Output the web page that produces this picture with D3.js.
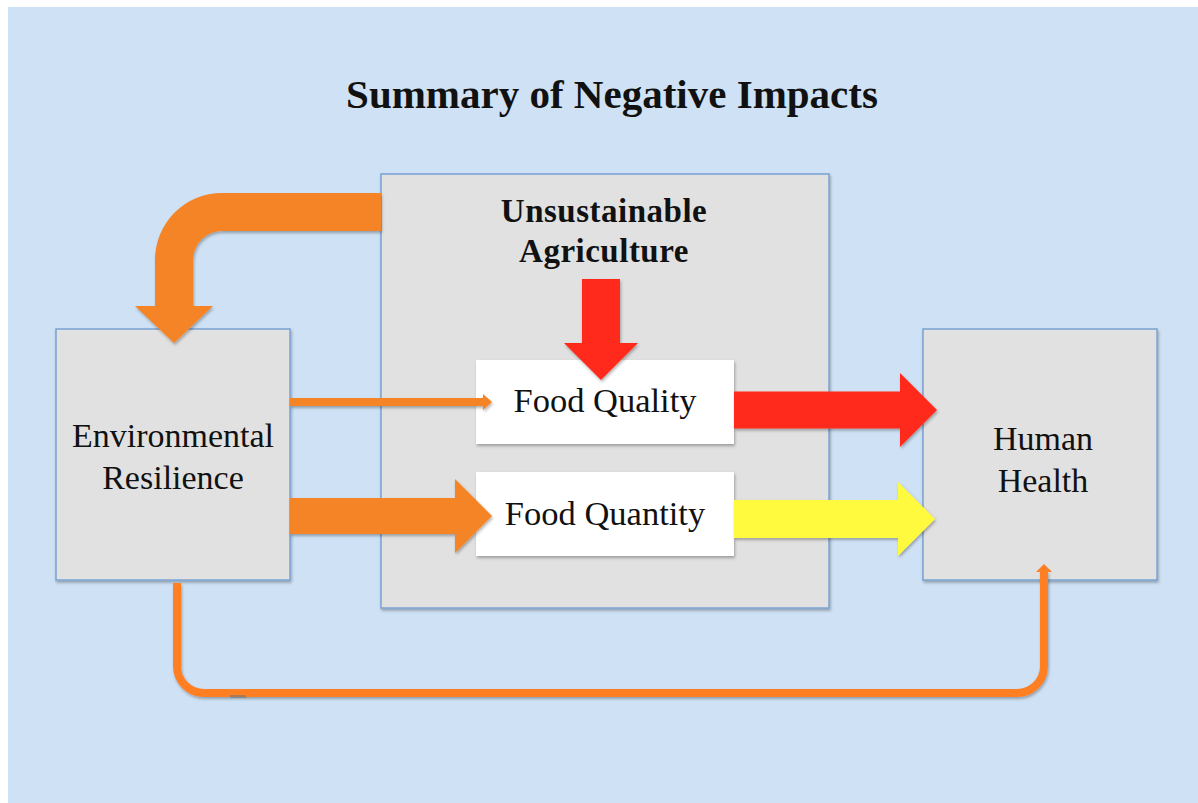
<!DOCTYPE html>
<html lang="en">
<head>
<meta charset="utf-8">
<script src="https://d3js.org/d3.v7.min.js"></script>
<style>
  body { margin: 0; background: #fff; }
  svg text { font-family: "Liberation Serif", "Times New Roman", serif; fill: #111; }
</style>
</head>
<body>
<svg width="1198" height="803"></svg>
<script>
// text content
var title = "Summary of Negative Impacts";
var sideLabels = [["Environmental", "Resilience"], ["Human", "Health"]];
var centerLabel = ["Unsustainable", "Agriculture"];
var foodLabels = ["Food Quality", "Food Quantity"];

var svg = d3.select("svg");
var defs = svg.append("defs");
var f = defs.append("filter").attr("id", "shadow")
    .attr("x", "-10%").attr("y", "-10%").attr("width", "130%").attr("height", "130%");
f.append("feDropShadow").attr("dx", 1).attr("dy", 2).attr("stdDeviation", 1.5)
    .attr("flood-color", "#000").attr("flood-opacity", 0.3);

var orange = "#f58426", red = "#ff2a1a", yellow = "#fffa3c", lineOrange = "#ff7f24";

// background panel
svg.append("rect").attr("x", 8).attr("y", 7).attr("width", 1190).attr("height", 796)
    .attr("fill", "#cfe2f5");

svg.append("text").attr("x", 612).attr("y", 108).attr("text-anchor", "middle")
    .style("font-size", "41px").style("font-weight", "bold").text(title);

// block arrow horizontal: from x0 to tip x1, centre y, shaft half, head half, head length
function hArrow(x0, x1, yc, sh, hh, hl) {
  var p = d3.path();
  p.moveTo(x0, yc - sh); p.lineTo(x1 - hl, yc - sh); p.lineTo(x1 - hl, yc - hh);
  p.lineTo(x1, yc); p.lineTo(x1 - hl, yc + hh); p.lineTo(x1 - hl, yc + sh);
  p.lineTo(x0, yc + sh); p.closePath();
  return p.toString();
}
function vArrow(xc, y0, y1, sh, hh, hl) {
  var p = d3.path();
  p.moveTo(xc - sh, y0); p.lineTo(xc - sh, y1 - hl); p.lineTo(xc - hh, y1 - hl);
  p.lineTo(xc, y1); p.lineTo(xc + hh, y1 - hl); p.lineTo(xc + sh, y1 - hl);
  p.lineTo(xc + sh, y0); p.closePath();
  return p.toString();
}

// boxes
var boxes = [
  {x: 56, y: 329, w: 234, h: 251},
  {x: 923, y: 329, w: 234, h: 251},
  {x: 381, y: 174, w: 448, h: 434}
];
svg.selectAll("rect.box").data(boxes).enter().append("rect").attr("class", "box")
    .attr("x", function(d) { return d.x; }).attr("y", function(d) { return d.y; })
    .attr("width", function(d) { return d.w; }).attr("height", function(d) { return d.h; })
    .attr("fill", "#e1e1e1").attr("stroke", "#78a3d3").attr("stroke-width", 1.5)
    .attr("filter", "url(#shadow)");

// curved arrow from agriculture box down into environmental resilience
var cp = d3.path();
cp.moveTo(381, 193); cp.lineTo(222, 193);
cp.arc(222, 260, 67, -Math.PI / 2, Math.PI, true);
cp.lineTo(155, 306); cp.lineTo(135, 306); cp.lineTo(174, 343); cp.lineTo(213, 306);
cp.lineTo(193, 306); cp.lineTo(193, 260);
cp.arc(222, 260, 29, Math.PI, -Math.PI / 2, false);
cp.lineTo(381, 231); cp.closePath();
svg.append("path").attr("d", cp.toString()).attr("fill", orange).attr("filter", "url(#shadow)");

// side labels
[[173, 447], [1043, 450]].forEach(function(pos, i) {
  var t = svg.append("text").attr("x", pos[0]).attr("y", pos[1])
      .attr("text-anchor", "middle").style("font-size", "34px");
  t.append("tspan").attr("x", pos[0]).text(sideLabels[i][0]);
  t.append("tspan").attr("x", pos[0]).attr("dy", 42).text(sideLabels[i][1]);
});

var ct = svg.append("text").attr("x", 604).attr("y", 222).attr("text-anchor", "middle")
    .style("font-size", "33px").style("font-weight", "bold").style("letter-spacing", "0.5px");
ct.append("tspan").attr("x", 604).text(centerLabel[0]);
ct.append("tspan").attr("x", 604).attr("dy", 40).text(centerLabel[1]);

// food boxes
var food = [{y: 360}, {y: 472}];
svg.selectAll("rect.food").data(food).enter().append("rect").attr("class", "food")
    .attr("x", 476).attr("y", function(d) { return d.y; })
    .attr("width", 258).attr("height", 84).attr("fill", "#fff").attr("filter", "url(#shadow)");
svg.selectAll("text.food").data(foodLabels).enter().append("text").attr("class", "food")
    .attr("x", 605).attr("y", function(d, i) { return [412, 525][i]; })
    .attr("text-anchor", "middle").style("font-size", "34.5px").text(function(d) { return d; });

// arrows
var arrows = [
  {d: vArrow(601, 279, 380, 19, 37, 37), c: red},
  {d: hArrow(290, 492, 402, 4, 8, 9), c: orange},
  {d: hArrow(290, 492, 516, 18, 37, 37), c: orange},
  {d: hArrow(734, 937, 410, 18.5, 37, 37), c: red},
  {d: hArrow(734, 935, 519, 19, 37, 37), c: yellow}
];
svg.selectAll("path.arr").data(arrows).enter().append("path").attr("class", "arr")
    .attr("d", function(d) { return d.d; }).attr("fill", function(d) { return d.c; })
    .attr("filter", "url(#shadow)");

// bottom connector
var bp = d3.path();
bp.moveTo(177, 583); bp.lineTo(177, 666);
bp.arc(204, 666, 27, Math.PI, Math.PI / 2, true);
bp.lineTo(1017, 693);
bp.arc(1017, 666, 27, Math.PI / 2, 0, true);
bp.lineTo(1044, 571);
svg.append("path").attr("d", bp.toString()).attr("fill", "none")
    .attr("stroke", lineOrange).attr("stroke-width", 8).attr("filter", "url(#shadow)");
svg.append("path").attr("d", "M1036,572L1044,564L1052,572Z").attr("fill", lineOrange);
svg.append("rect").attr("x", 230).attr("y", 695).attr("width", 16).attr("height", 3)
    .attr("fill", "#777").attr("opacity", 0.6);
</script>
</body>
</html>
